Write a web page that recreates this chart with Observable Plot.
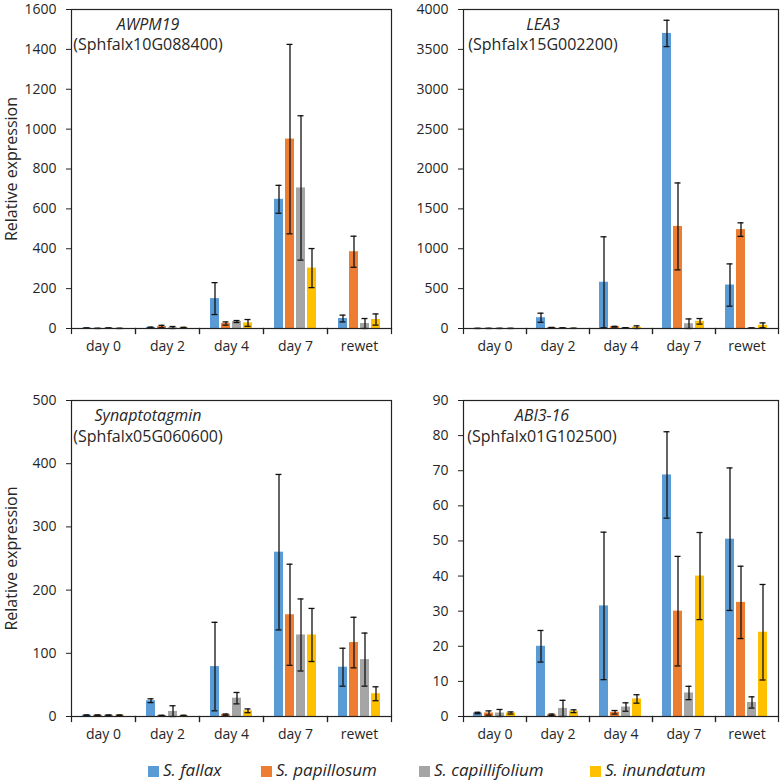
<!DOCTYPE html>
<html>
<head>
<meta charset="utf-8">
<script src="https://cdn.jsdelivr.net/npm/d3@7"></script>
<script src="https://cdn.jsdelivr.net/npm/@observablehq/plot@0.6"></script>
<style>
  html, body { margin: 0; padding: 0; background: #fff; }
  #root { position: relative; width: 782px; height: 782px; overflow: hidden; font-family: "Open Sans", sans-serif; color: #262626; }
  .panel { position: absolute; }
  .title { position: absolute; width: 300px; text-align: center; font-size: 16px; color: #262626; }
  .title i { font-style: italic; }
  #legend { position: absolute; top: 759px; left: 0; width: 782px; height: 22px; font-size: 17px; font-style: italic; color: #262626; white-space: nowrap; }
  #legend .item { position: absolute; top: 0; line-height: 22px; }
  #legend .sw { display: inline-block; width: 11px; height: 11px; margin-right: 4px; vertical-align: -1px; }
</style>
</head>
<body>
<div id="root"></div>
<script>
// ---------- data ----------
const categories = ["day 0", "day 2", "day 4", "day 7", "rewet"];
const species = ["S. fallax", "S. papillosum", "S. capillifolium", "S. inundatum"];
const colors = ["#5B9BD5", "#ED7D31", "#A5A5A5", "#FFC000"];

const awpm19Mean = [[2, 0.5, 2, 0.5], [5, 10, 4, 4], [150, 25, 35, 28], [648, 950, 705, 303], [50, 385, 25, 45]];
const awpm19Err  = [[1, 0.5, 1, 0.5], [2, 6, 6, 2], [80, 8, 5, 17], [70, 475, 362, 98], [17, 78, 25, 28]];
const awpm19Ticks = [0, 200, 400, 600, 800, 1000, 1200, 1400, 1600];

const lea3Mean = [[1, 1, 1, 1], [135, 10, 6, 2], [580, 22, 8, 15], [3700, 1280, 60, 90], [545, 1240, 5, 40]];
const lea3Err  = [[1, 1, 1, 1], [57, 4, 3, 1], [570, 5, 3, 18], [165, 545, 60, 35], [265, 85, 3, 30]];
const lea3Ticks = [0, 500, 1000, 1500, 2000, 2500, 3000, 3500, 4000];

const synMean = [[2, 2, 2, 2], [25, 1.5, 8, 1.5], [79, 3, 29, 9], [260, 161, 129, 129], [78, 117, 90, 36]];
const synErr  = [[0.5, 0.5, 0.5, 0.5], [3, 0.5, 9, 0.5], [70, 1, 9, 3], [123, 80, 57, 42], [30, 40, 42, 11]];
const synTicks = [0, 100, 200, 300, 400, 500];

const abiMean = [[1, 1, 1, 1], [20, 0.5, 2.3, 1.5], [31.5, 1.2, 2.7, 5], [68.8, 30, 6.7, 40], [50.5, 32.5, 4, 24]];
const abiErr  = [[0.2, 0.6, 1, 0.3], [4.5, 0.2, 2.3, 0.4], [21, 0.5, 1.2, 1.2], [12.3, 15.6, 1.9, 12.4], [20.3, 10.3, 1.6, 13.6]];
const abiTicks = [0, 10, 20, 30, 40, 50, 60, 70, 80, 90];

const geneNames = ["AWPM19", "LEA3", "Synaptotagmin", "ABI3-16"];
const geneIds = ["(Sphfalx10G088400)", "(Sphfalx15G002200)", "(Sphfalx05G060600)", "(Sphfalx01G102500)"];
const yLabel = "Relative expression";

// ---------- build ----------
const root = document.getElementById("root");

function table(mean, err) {
  const rows = [];
  categories.forEach((c, i) => species.forEach((s, j) => rows.push({cat: c, sp: s, v: mean[i][j], e: err[i][j]})));
  return rows;
}

function panel(cfg) {
  const data = table(cfg.mean, cfg.err);
  const innerH = cfg.height - cfg.marginTop - cfg.marginBottom;
  const lo = d => Math.max(0, d.v - d.e);
  const hi = d => d.v + d.e;
  const svg = Plot.plot({
    width: cfg.width,
    height: cfg.height,
    marginLeft: cfg.marginLeft,
    marginRight: cfg.marginRight,
    marginTop: cfg.marginTop,
    marginBottom: cfg.marginBottom,
    style: {fontFamily: "'Open Sans', sans-serif", fontSize: "14px", color: "#262626", background: "transparent", overflow: "visible"},
    fx: {domain: categories, padding: 0, label: null},
    x: {domain: species, paddingInner: 0.17, paddingOuter: 0.8, axis: null},
    y: {domain: [0, cfg.ticks[cfg.ticks.length - 1]], label: null},
    color: {domain: species, range: colors},
    marks: [
      Plot.barY(data, {fx: "cat", x: "sp", y: "v", fill: "sp"}),
      Plot.ruleX(data, {fx: "cat", x: "sp", y1: lo, y2: hi, stroke: "#111", strokeWidth: 1.3}),
      Plot.tickY(data, {fx: "cat", x: "sp", y: lo, stroke: "#111", strokeWidth: 1.3, insetLeft: 1.5, insetRight: 1.5}),
      Plot.tickY(data, {fx: "cat", x: "sp", y: hi, stroke: "#111", strokeWidth: 1.3, insetLeft: 1.5, insetRight: 1.5}),
      Plot.frame({facet: "super", stroke: "#222", strokeWidth: 1.2}),
      Plot.frame({anchor: "left", insetTop: innerH, insetBottom: -5, stroke: "#222", strokeWidth: 1.2}),
      Plot.frame({anchor: "right", insetTop: innerH, insetBottom: -5, stroke: "#222", strokeWidth: 1.2}),
      Plot.axisY({ticks: cfg.ticks, tickSize: 5, tickPadding: 10, tickFormat: d => String(d),
        label: cfg.label, labelAnchor: "center", labelOffset: 66, labelArrow: "none", stroke: "#222"}),
      Plot.axisFx({anchor: "bottom", tickSize: 0, tickPadding: 13, label: null})
    ]
  });
  svg.classList.add("panel");
  svg.style.left = cfg.left + "px";
  svg.style.top = cfg.top + "px";
  const lab = svg.querySelector('[aria-label="y-axis label"]');
  if (lab) lab.setAttribute("font-size", "16");
  root.appendChild(svg);

  const t = document.createElement("div");
  t.className = "title";
  t.style.left = (cfg.titleX - 150) + "px";
  t.style.top = cfg.titleTop + "px";
  t.style.lineHeight = cfg.titleLH + "px";
  const i1 = document.createElement("i");
  i1.textContent = cfg.gene;
  t.appendChild(i1);
  t.appendChild(document.createElement("br"));
  t.appendChild(document.createTextNode(cfg.geneId));
  root.appendChild(t);
}

panel({mean: awpm19Mean, err: awpm19Err, ticks: awpm19Ticks, label: yLabel, gene: geneNames[0], geneId: geneIds[0],
  left: 0, top: 0, width: 400, height: 360, marginLeft: 69, marginRight: 7, marginTop: 9, marginBottom: 32,
  titleX: 148, titleTop: 14, titleLH: 20});
panel({mean: lea3Mean, err: lea3Err, ticks: lea3Ticks, label: null, gene: geneNames[1], geneId: geneIds[1],
  left: 391, top: 0, width: 391, height: 360, marginLeft: 70, marginRight: 3, marginTop: 9, marginBottom: 32,
  titleX: 543, titleTop: 14, titleLH: 20});
panel({mean: synMean, err: synErr, ticks: synTicks, label: yLabel, gene: geneNames[2], geneId: geneIds[2],
  left: 0, top: 391, width: 400, height: 360, marginLeft: 69, marginRight: 7, marginTop: 9, marginBottom: 35,
  titleX: 148, titleTop: 405, titleLH: 21});
panel({mean: abiMean, err: abiErr, ticks: abiTicks, label: null, gene: geneNames[3], geneId: geneIds[3],
  left: 391, top: 391, width: 391, height: 360, marginLeft: 70, marginRight: 3, marginTop: 9, marginBottom: 35,
  titleX: 542, titleTop: 405, titleLH: 21});

// legend
const legend = document.createElement("div");
legend.id = "legend";
const legendX = [148, 261, 419, 590];
species.forEach((s, k) => {
  const it = document.createElement("span");
  it.className = "item";
  it.style.left = legendX[k] + "px";
  const sw = document.createElement("span");
  sw.className = "sw";
  sw.style.background = colors[k];
  it.appendChild(sw);
  it.appendChild(document.createTextNode(s));
  legend.appendChild(it);
});
root.appendChild(legend);
</script>
</body>
</html>
